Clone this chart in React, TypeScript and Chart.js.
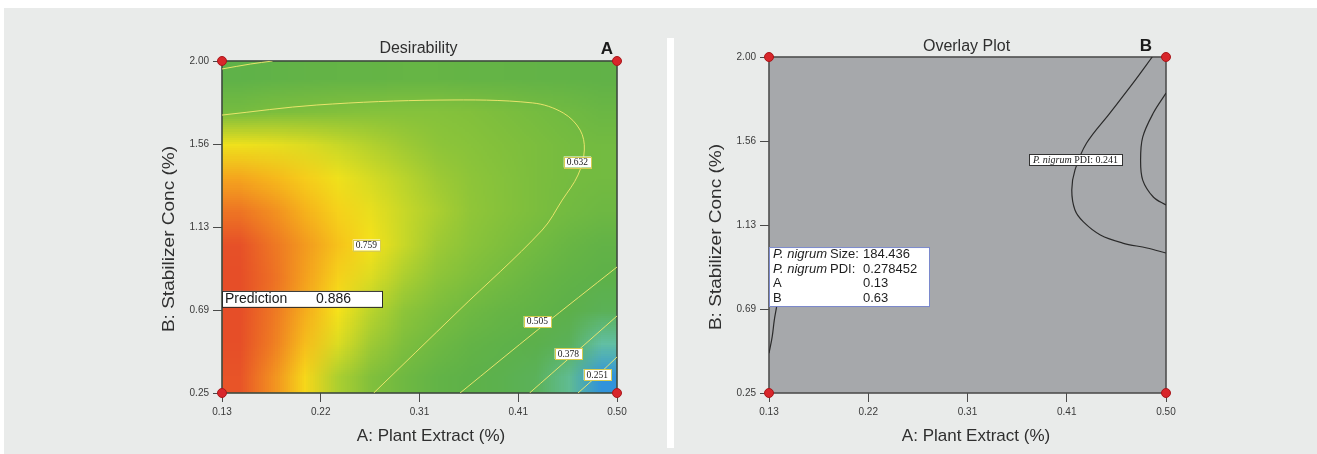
import React, { useEffect, useRef } from "react";
import { Chart, registerables } from "chart.js";

Chart.register(...registerables);

const SANS = "'Liberation Sans', Arial, Helvetica, sans-serif";
const SERIF = "'Liberation Serif', 'Times New Roman', serif";

// ---------- axes ----------
const xTickValues = [0.125, 0.21875, 0.3125, 0.40625, 0.5];
const xTickLabels = ["0.13", "0.22", "0.31", "0.41", "0.50"];
const yTickValues = [0.25, 0.6875, 1.125, 1.5625, 2.0];
const yTickLabels = ["0.25", "0.69", "1.13", "1.56", "2.00"];
const xAxisTitle = "A: Plant Extract (%)";
const yAxisTitle = "B: Stabilizer Conc (%)";

// design points (corners)
const designA = [0.125, 0.5, 0.125, 0.5];
const designB = [2.0, 2.0, 0.25, 0.25];

// ---------- desirability grid (cell centres, 12 columns in A, rows from low B to high B) ----------
const dRowB034 = [0.875, 0.83, 0.765, 0.7, 0.655, 0.615, 0.57, 0.52, 0.475, 0.425, 0.355, 0.22];
const dRowB051 = [0.885, 0.845, 0.79, 0.735, 0.69, 0.65, 0.615, 0.575, 0.53, 0.49, 0.43, 0.34];
const dRowB069 = [0.886, 0.85, 0.805, 0.755, 0.71, 0.675, 0.645, 0.615, 0.59, 0.555, 0.505, 0.44];
const dRowB086 = [0.886, 0.855, 0.815, 0.77, 0.735, 0.7, 0.675, 0.65, 0.628, 0.595, 0.555, 0.515];
const dRowB104 = [0.88, 0.85, 0.82, 0.785, 0.755, 0.72, 0.69, 0.67, 0.65, 0.625, 0.595, 0.565];
const dRowB121 = [0.85, 0.83, 0.8, 0.77, 0.745, 0.72, 0.7, 0.68, 0.662, 0.645, 0.627, 0.61];
const dRowB139 = [0.81, 0.795, 0.775, 0.75, 0.73, 0.71, 0.69, 0.675, 0.66, 0.645, 0.635, 0.625];
const dRowB156 = [0.75, 0.745, 0.735, 0.72, 0.705, 0.69, 0.675, 0.665, 0.655, 0.645, 0.635, 0.625];
const dRowB174 = [0.635, 0.645, 0.65, 0.655, 0.66, 0.66, 0.66, 0.655, 0.645, 0.635, 0.62, 0.6];
const dRowB191 = [0.53, 0.55, 0.565, 0.575, 0.58, 0.585, 0.585, 0.58, 0.575, 0.565, 0.555, 0.545];
const desirabilityGrid = [dRowB034, dRowB051, dRowB069, dRowB086, dRowB104, dRowB121, dRowB139, dRowB156, dRowB174, dRowB191];

// colour scale
const colorStopValues = [0.1, 0.18, 0.25, 0.32, 0.4, 0.5, 0.58, 0.635, 0.68, 0.72, 0.755, 0.8, 0.84, 0.875, 0.92];
const colorStopRGB = [
  [10, 50, 150], [20, 110, 205], [70, 175, 230], [100, 195, 185], [90, 178, 95], [92, 176, 74],
  [100, 180, 70], [118, 188, 64], [145, 198, 56], [200, 216, 40], [246, 226, 26], [246, 178, 28],
  [240, 130, 34], [232, 84, 40], [225, 60, 38],
];

// contour lines (left)
const c632A = [0.125, 0.215, 0.332, 0.42, 0.449, 0.465, 0.469, 0.463, 0.448, 0.429, 0.349, 0.269];
const c632B = [1.715, 1.768, 1.794, 1.779, 1.726, 1.636, 1.531, 1.399, 1.267, 1.109, 0.68, 0.25];
const cCornerA = [0.125, 0.152, 0.173];
const cCornerB = [1.958, 1.984, 2.0];
const c505A = [0.5, 0.427, 0.351];
const c505B = [0.914, 0.593, 0.25];
const c378A = [0.5, 0.458, 0.417];
const c378B = [0.656, 0.45, 0.25];
const c251A = [0.5, 0.482, 0.463];
const c251B = [0.44, 0.345, 0.25];

// contour labels (left)
const contourLabelText = ["0.632", "0.759", "0.505", "0.378", "0.251"];
const contourLabelA = [0.4624, 0.2621, 0.4244, 0.4538, 0.4813];
const contourLabelB = [1.4676, 1.0301, 0.6269, 0.4582, 0.3475];

// prediction
const predictionLabel = "Prediction";
const predictionValue = "0.886";
const predictionB = 0.63;

// overlay curves (right)
const o1A = [0.487, 0.469, 0.447, 0.425, 0.414, 0.411, 0.414, 0.422, 0.438, 0.459, 0.482, 0.5];
const o1B = [2.0, 1.865, 1.708, 1.552, 1.411, 1.307, 1.203, 1.141, 1.073, 1.031, 1.005, 0.979];
const o2A = [0.5, 0.488, 0.478, 0.476, 0.478, 0.488, 0.5];
const o2B = [1.812, 1.708, 1.583, 1.464, 1.359, 1.271, 1.229];
const o3A = [0.125, 0.128, 0.13, 0.132, 0.134];
const o3B = [0.457, 0.542, 0.63, 0.693, 0.76];

const pdiLabelItalic = "P. nigrum";
const pdiLabelRest = " PDI: 0.241";
const pdiLabelA = 0.4145;
const pdiLabelB = 1.4662;

const infoItalic = ["P. nigrum", "P. nigrum", "", ""];
const infoNames = ["Size:", "PDI:", "A", "B"];
const infoValues = ["184.436", "0.278452", "0.13", "0.63"];

// ---------- helpers ----------
function pts(a: number[], b: number[]) {
  return a.map((v, i) => ({ x: v, y: b[i] }));
}

function colorFor(v: number): number[] {
  if (v <= colorStopValues[0]) return colorStopRGB[0];
  for (let i = 1; i < colorStopValues.length; i++) {
    if (v <= colorStopValues[i]) {
      const t = (v - colorStopValues[i - 1]) / (colorStopValues[i] - colorStopValues[i - 1]);
      return colorStopRGB[i].map((c, k) => Math.round(colorStopRGB[i - 1][k] + (c - colorStopRGB[i - 1][k]) * t));
    }
  }
  return colorStopRGB[colorStopRGB.length - 1];
}

function buildScales(yAxisWidth: number) {
  const tickFont = { family: SANS, size: 10 };
  const grid = { display: true, drawOnChartArea: false, drawTicks: true, tickLength: 9, color: "#4a4a4a", lineWidth: 1 };
  return {
    x: {
      type: "linear",
      min: xTickValues[0],
      max: xTickValues[xTickValues.length - 1],
      afterBuildTicks: (s: any) => {
        s.ticks = xTickValues.map((v) => ({ value: v }));
      },
      afterFit: (s: any) => {
        s.height = 61;
      },
      ticks: {
        callback: (v: any) => xTickLabels[xTickValues.indexOf(v)] ?? "",
        font: tickFont,
        color: "#3a3a3a",
        padding: 4,
        maxRotation: 0,
        autoSkip: false,
      },
      grid,
      border: { display: false },
    },
    y: {
      type: "linear",
      min: yTickValues[0],
      max: yTickValues[yTickValues.length - 1],
      afterBuildTicks: (s: any) => {
        s.ticks = yTickValues.map((v) => ({ value: v }));
      },
      afterFit: (s: any) => {
        s.width = yAxisWidth;
      },
      ticks: {
        callback: (v: any) => yTickLabels[yTickValues.indexOf(v)] ?? "",
        font: tickFont,
        color: "#3a3a3a",
        padding: 4,
        autoSkip: false,
      },
      grid,
      border: { display: false },
    },
  };
}

function titlesPlugin(o: { title: string; letter: string; titleDy: number; letterInset: number; xTitleDx: number }) {
  return {
    id: "titles",
    afterDraw(chart: any) {
      const { ctx, chartArea: ca } = chart;
      const cx = (ca.left + ca.right) / 2;
      ctx.save();
      ctx.textBaseline = "middle";
      ctx.fillStyle = "#2f2f2f";
      ctx.textAlign = "center";
      ctx.font = `16px ${SANS}`;
      ctx.fillText(o.title, cx - 1, ca.top + o.titleDy);
      ctx.fillStyle = "#1a1a1a";
      ctx.textAlign = "right";
      ctx.font = `bold 17px ${SANS}`;
      ctx.fillText(o.letter, ca.right - o.letterInset, ca.top + o.titleDy);
      ctx.fillStyle = "#2f2f2f";
      ctx.textAlign = "center";
      ctx.font = `17px ${SANS}`;
      ctx.fillText(xAxisTitle, cx + o.xTitleDx, ca.bottom + 43);
      ctx.translate(ca.left - 53, (ca.top + ca.bottom) / 2 + 12);
      ctx.rotate(-Math.PI / 2);
      ctx.scale(1.12, 1);
      ctx.fillText(yAxisTitle, 0, 0);
      ctx.restore();
    },
  };
}

function drawBorder(ctx: CanvasRenderingContext2D, ca: any, color: string) {
  ctx.save();
  ctx.strokeStyle = color;
  ctx.lineWidth = 1.6;
  ctx.strokeRect(ca.left, ca.top, ca.right - ca.left, ca.bottom - ca.top);
  ctx.restore();
}

const heatmapPlugin = {
  id: "heatmap",
  beforeDatasetsDraw(chart: any) {
    const { ctx, scales } = chart;
    const xs = scales.x;
    const ys = scales.y;
    const rows = desirabilityGrid.length;
    const cols = desirabilityGrid[0].length;
    const off = document.createElement("canvas");
    off.width = cols;
    off.height = rows;
    const octx = off.getContext("2d")!;
    const img = octx.createImageData(cols, rows);
    for (let r = 0; r < rows; r++) {
      for (let c = 0; c < cols; c++) {
        const rgb = colorFor(desirabilityGrid[r][c]);
        const idx = ((rows - 1 - r) * cols + c) * 4;
        img.data[idx] = rgb[0];
        img.data[idx + 1] = rgb[1];
        img.data[idx + 2] = rgb[2];
        img.data[idx + 3] = 255;
      }
    }
    octx.putImageData(img, 0, 0);
    const x0 = xs.getPixelForValue(xTickValues[0]);
    const x1 = xs.getPixelForValue(xTickValues[xTickValues.length - 1]);
    const y0 = ys.getPixelForValue(yTickValues[yTickValues.length - 1]);
    const y1 = ys.getPixelForValue(yTickValues[0]);
    ctx.save();
    ctx.beginPath();
    ctx.rect(x0, y0, x1 - x0, y1 - y0);
    ctx.clip();
    ctx.imageSmoothingEnabled = true;
    ctx.drawImage(off, x0, y0, x1 - x0, y1 - y0);
    ctx.restore();
    drawBorder(ctx, chart.chartArea, "#3e4a3e");
  },
};

const leftLabelsPlugin = {
  id: "leftLabels",
  afterDatasetsDraw(chart: any) {
    const { ctx, scales, chartArea: ca } = chart;
    ctx.save();
    ctx.font = `9.5px ${SERIF}`;
    ctx.textBaseline = "middle";
    ctx.textAlign = "center";
    contourLabelText.forEach((t, i) => {
      const px = scales.x.getPixelForValue(contourLabelA[i]);
      const py = scales.y.getPixelForValue(contourLabelB[i]);
      const w = ctx.measureText(t).width + 6;
      const h = 11;
      ctx.fillStyle = "#ffffff";
      ctx.fillRect(px - w / 2, py - h / 2, w, h);
      ctx.strokeStyle = "#d6cc52";
      ctx.lineWidth = 1;
      ctx.strokeRect(Math.round(px - w / 2) + 0.5, Math.round(py - h / 2) + 0.5, Math.round(w), h);
      ctx.fillStyle = "#1a1a1a";
      ctx.fillText(t, px, py + 0.5);
    });
    // prediction box
    const py = scales.y.getPixelForValue(predictionB);
    const bx = ca.left;
    const by = py - 30;
    ctx.fillStyle = "#ffffff";
    ctx.fillRect(bx, by, 160, 16);
    ctx.strokeStyle = "#2a2a2a";
    ctx.lineWidth = 1;
    ctx.strokeRect(bx + 0.5, by + 0.5, 160, 16);
    ctx.fillStyle = "#1a1a1a";
    ctx.font = `14px ${SANS}`;
    ctx.textAlign = "left";
    ctx.fillText(predictionLabel, bx + 3, by + 8.5);
    ctx.fillText(predictionValue, bx + 94, by + 8.5);
    ctx.restore();
  },
};

const overlayFillPlugin = {
  id: "overlayFill",
  beforeDatasetsDraw(chart: any) {
    const { ctx, chartArea: ca } = chart;
    ctx.save();
    ctx.fillStyle = "#a6a8ab";
    ctx.fillRect(ca.left, ca.top, ca.right - ca.left, ca.bottom - ca.top);
    ctx.restore();
    drawBorder(ctx, ca, "#4f4f4f");
  },
};

const overlayLabelsPlugin = {
  id: "overlayLabels",
  afterDatasetsDraw(chart: any) {
    const { ctx, scales, chartArea: ca } = chart;
    ctx.save();
    // PDI contour label
    ctx.textBaseline = "middle";
    ctx.font = `italic 10px ${SERIF}`;
    const wI = ctx.measureText(pdiLabelItalic).width;
    ctx.font = `10px ${SERIF}`;
    const wR = ctx.measureText(pdiLabelRest).width;
    const px = scales.x.getPixelForValue(pdiLabelA);
    const py = scales.y.getPixelForValue(pdiLabelB);
    const w = wI + wR + 8;
    const h = 11;
    const lx = Math.round(px - w / 2);
    const ly = Math.round(py - h / 2);
    ctx.fillStyle = "#ffffff";
    ctx.fillRect(lx, ly, w, h);
    ctx.strokeStyle = "#333333";
    ctx.lineWidth = 1;
    ctx.strokeRect(lx + 0.5, ly + 0.5, Math.round(w), h);
    ctx.fillStyle = "#1a1a1a";
    ctx.textAlign = "left";
    ctx.font = `italic 10px ${SERIF}`;
    ctx.fillText(pdiLabelItalic, lx + 4, ly + h / 2 + 0.5);
    ctx.font = `10px ${SERIF}`;
    ctx.fillText(pdiLabelRest, lx + 4 + wI, ly + h / 2 + 0.5);

    // info box
    const pY = scales.y.getPixelForValue(predictionB);
    const bx = ca.left;
    const bw = 160;
    const bh = 59;
    const by = pY - 14 - bh;
    ctx.fillStyle = "#ffffff";
    ctx.fillRect(bx, by, bw, bh);
    ctx.strokeStyle = "#7a88cc";
    ctx.lineWidth = 1;
    ctx.strokeRect(bx + 0.5, by + 0.5, bw, bh);
    ctx.fillStyle = "#1e1e1e";
    infoNames.forEach((name, i) => {
      const ty = by + 7.5 + i * 14.6;
      let tx = bx + 4;
      if (infoItalic[i]) {
        ctx.font = `italic 13px ${SANS}`;
        ctx.fillText(infoItalic[i], tx, ty);
        tx += ctx.measureText(infoItalic[i]).width + 3;
      }
      ctx.font = `13px ${SANS}`;
      ctx.fillText(name, tx, ty);
      ctx.fillText(infoValues[i], bx + 94, ty);
    });
    ctx.restore();
  },
};

function designDataset() {
  return {
    label: "design",
    data: pts(designA, designB),
    showLine: false,
    pointRadius: 4.5,
    pointHoverRadius: 4.5,
    pointBackgroundColor: "#d8262b",
    pointBorderColor: "#a8161a",
    pointBorderWidth: 1,
    clip: false as any,
  };
}

function lineDataset(a: number[], b: number[], color: string, width: number) {
  return {
    label: "line",
    data: pts(a, b),
    showLine: true,
    pointRadius: 0,
    borderColor: color,
    borderWidth: width,
    tension: 0.35,
    fill: false,
  };
}

function commonOptions(padTop: number, padRight: number, yAxisWidth: number) {
  return {
    responsive: false,
    maintainAspectRatio: false,
    animation: false,
    events: [],
    layout: { padding: { top: padTop, right: padRight, left: 0, bottom: 0 } },
    plugins: { legend: { display: false }, title: { display: false }, tooltip: { enabled: false } },
    scales: buildScales(yAxisWidth),
  };
}

export default function App() {
  const leftRef = useRef<HTMLCanvasElement>(null);
  const rightRef = useRef<HTMLCanvasElement>(null);

  useEffect(() => {
    const contourColor = "rgba(238,230,110,0.95)";
    const left = new Chart(leftRef.current!, {
      type: "scatter",
      data: {
        datasets: [
          designDataset(),
          lineDataset(c632A, c632B, contourColor, 1),
          lineDataset(cCornerA, cCornerB, contourColor, 1),
          lineDataset(c505A, c505B, contourColor, 1),
          lineDataset(c378A, c378B, contourColor, 1),
          lineDataset(c251A, c251B, contourColor, 1),
        ],
      },
      options: commonOptions(61, 49, 222) as any,
      plugins: [
        heatmapPlugin,
        leftLabelsPlugin,
        titlesPlugin({ title: "Desirability", letter: "A", titleDy: -12, letterInset: 4, xTitleDx: 11.5 }),
      ],
    } as any);

    const right = new Chart(rightRef.current!, {
      type: "scatter",
      data: {
        datasets: [
          designDataset(),
          lineDataset(o1A, o1B, "#2b2b2b", 1.2),
          lineDataset(o2A, o2B, "#2b2b2b", 1.2),
          lineDataset(o3A, o3B, "#2b2b2b", 1.2),
        ],
      },
      options: commonOptions(57, 151, 95) as any,
      plugins: [
        overlayFillPlugin,
        overlayLabelsPlugin,
        titlesPlugin({ title: "Overlay Plot", letter: "B", titleDy: -10.5, letterInset: 14, xTitleDx: 8.5 }),
      ],
    } as any);

    return () => {
      left.destroy();
      right.destroy();
    };
  }, []);

  return (
    <div
      style={{
        position: "fixed",
        left: 0,
        top: 0,
        width: 1317,
        height: 454,
        background: "#ffffff",
        overflow: "hidden",
      }}
    >
      <div style={{ position: "absolute", left: 4, top: 8, right: 0, bottom: 0, background: "#e9ebea" }} />
      <div style={{ position: "absolute", left: 667, top: 38, width: 7, height: 410, background: "#ffffff" }} />
      <canvas
        ref={leftRef}
        width={666}
        height={454}
        style={{ position: "absolute", left: 0, top: 0, width: 666, height: 454 }}
      />
      <canvas
        ref={rightRef}
        width={643}
        height={454}
        style={{ position: "absolute", left: 674, top: 0, width: 643, height: 454 }}
      />
    </div>
  );
}
